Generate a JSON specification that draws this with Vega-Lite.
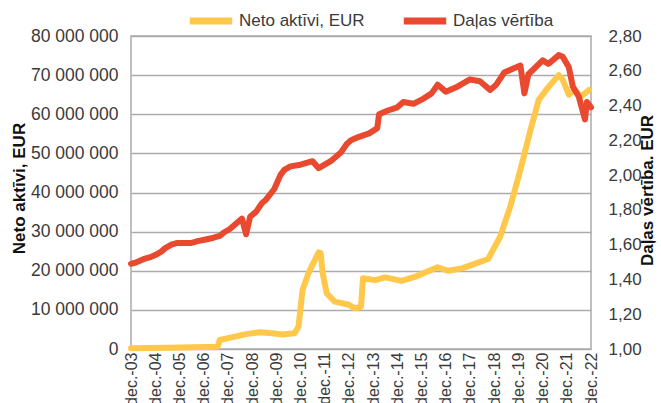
{
  "$schema": "https://vega.github.io/schema/vega-lite/v6.json",
  "width": 460,
  "height": 313,
  "autosize": {"type": "none"},
  "padding": {"left": 131, "top": 36, "right": 70, "bottom": 54},
  "background": "white",
  "config": {
    "view": {"stroke": "#ABABAB", "strokeWidth": 1.5},
    "font": "Liberation Sans",
    "axis": {"labelFont": "Liberation Sans", "titleFont": "Liberation Sans", "labelColor": "#3A3A3A", "titleColor": "#111111"},
    "axisX": {"labelOverlap": false, "labelFlush": false},
    "legend": {"labelFont": "Liberation Sans", "labelColor": "#3A3A3A"}
  },
  "datasets": {
    "neto": [
      {"date": "2003-12-01", "value": 200000},
      {"date": "2005-06-01", "value": 300000},
      {"date": "2007-07-01", "value": 600000},
      {"date": "2007-08-01", "value": 2300000},
      {"date": "2008-03-01", "value": 3100000},
      {"date": "2008-09-01", "value": 3800000},
      {"date": "2009-04-01", "value": 4300000},
      {"date": "2009-10-01", "value": 4000000},
      {"date": "2010-03-01", "value": 3700000},
      {"date": "2010-09-01", "value": 4000000},
      {"date": "2010-11-01", "value": 5700000},
      {"date": "2011-01-01", "value": 15100000},
      {"date": "2011-04-01", "value": 19400000},
      {"date": "2011-09-01", "value": 24700000},
      {"date": "2011-10-01", "value": 24500000},
      {"date": "2011-11-01", "value": 19400000},
      {"date": "2012-01-01", "value": 14200000},
      {"date": "2012-05-01", "value": 12100000},
      {"date": "2012-12-01", "value": 11300000},
      {"date": "2013-03-01", "value": 10400000},
      {"date": "2013-06-01", "value": 10800000},
      {"date": "2013-07-01", "value": 18100000},
      {"date": "2014-01-01", "value": 17600000},
      {"date": "2014-06-01", "value": 18300000},
      {"date": "2015-02-01", "value": 17400000},
      {"date": "2015-09-01", "value": 18500000},
      {"date": "2016-03-01", "value": 19800000},
      {"date": "2016-08-01", "value": 20900000},
      {"date": "2017-01-01", "value": 20000000},
      {"date": "2017-08-01", "value": 20600000},
      {"date": "2018-03-01", "value": 21900000},
      {"date": "2018-09-01", "value": 23000000},
      {"date": "2019-03-01", "value": 28700000},
      {"date": "2019-08-01", "value": 36400000},
      {"date": "2020-01-01", "value": 45800000},
      {"date": "2020-06-01", "value": 56000000},
      {"date": "2020-10-01", "value": 63600000},
      {"date": "2021-03-01", "value": 67000000},
      {"date": "2021-08-01", "value": 70000000},
      {"date": "2021-10-01", "value": 68800000},
      {"date": "2022-01-01", "value": 65000000},
      {"date": "2022-04-01", "value": 66200000},
      {"date": "2022-07-01", "value": 64500000},
      {"date": "2022-11-01", "value": 66200000}
    ],
    "dala": [
      {"date": "2003-12-01", "value": 1.49},
      {"date": "2004-03-01", "value": 1.50},
      {"date": "2004-07-01", "value": 1.52},
      {"date": "2004-10-01", "value": 1.53},
      {"date": "2004-12-01", "value": 1.54},
      {"date": "2005-03-01", "value": 1.56},
      {"date": "2005-05-01", "value": 1.58},
      {"date": "2005-08-01", "value": 1.60},
      {"date": "2005-11-01", "value": 1.61},
      {"date": "2006-02-01", "value": 1.61},
      {"date": "2006-06-01", "value": 1.61},
      {"date": "2006-09-01", "value": 1.62},
      {"date": "2007-01-01", "value": 1.63},
      {"date": "2007-05-01", "value": 1.64},
      {"date": "2007-08-01", "value": 1.65},
      {"date": "2007-10-01", "value": 1.67},
      {"date": "2008-01-01", "value": 1.69},
      {"date": "2008-03-01", "value": 1.71},
      {"date": "2008-07-01", "value": 1.75},
      {"date": "2008-09-01", "value": 1.66},
      {"date": "2008-11-01", "value": 1.76},
      {"date": "2009-02-01", "value": 1.79},
      {"date": "2009-05-01", "value": 1.84},
      {"date": "2009-07-01", "value": 1.86},
      {"date": "2009-11-01", "value": 1.92},
      {"date": "2010-02-01", "value": 2.00},
      {"date": "2010-04-01", "value": 2.03},
      {"date": "2010-07-01", "value": 2.05},
      {"date": "2010-12-01", "value": 2.06},
      {"date": "2011-03-01", "value": 2.07},
      {"date": "2011-06-01", "value": 2.08},
      {"date": "2011-09-01", "value": 2.04},
      {"date": "2011-12-01", "value": 2.06},
      {"date": "2012-03-01", "value": 2.08},
      {"date": "2012-08-01", "value": 2.13},
      {"date": "2012-11-01", "value": 2.18},
      {"date": "2013-01-01", "value": 2.20},
      {"date": "2013-05-01", "value": 2.22},
      {"date": "2013-10-01", "value": 2.24},
      {"date": "2014-02-01", "value": 2.27},
      {"date": "2014-03-01", "value": 2.35},
      {"date": "2014-07-01", "value": 2.37},
      {"date": "2014-12-01", "value": 2.39},
      {"date": "2015-03-01", "value": 2.42},
      {"date": "2015-08-01", "value": 2.41},
      {"date": "2016-01-01", "value": 2.44},
      {"date": "2016-05-01", "value": 2.47},
      {"date": "2016-08-01", "value": 2.52},
      {"date": "2016-12-01", "value": 2.48},
      {"date": "2017-06-01", "value": 2.51},
      {"date": "2017-12-01", "value": 2.55},
      {"date": "2018-05-01", "value": 2.54},
      {"date": "2018-10-01", "value": 2.49},
      {"date": "2019-01-01", "value": 2.52},
      {"date": "2019-05-01", "value": 2.59},
      {"date": "2019-09-01", "value": 2.61},
      {"date": "2020-01-01", "value": 2.63},
      {"date": "2020-03-01", "value": 2.47},
      {"date": "2020-05-01", "value": 2.58},
      {"date": "2020-12-01", "value": 2.66},
      {"date": "2021-03-01", "value": 2.64},
      {"date": "2021-08-01", "value": 2.69},
      {"date": "2021-10-01", "value": 2.68},
      {"date": "2022-01-01", "value": 2.62},
      {"date": "2022-03-01", "value": 2.51},
      {"date": "2022-06-01", "value": 2.45},
      {"date": "2022-09-01", "value": 2.32},
      {"date": "2022-10-01", "value": 2.42},
      {"date": "2022-12-01", "value": 2.39}
    ]
  },
  "encoding": {
    "x": {
      "field": "date", "type": "temporal",
      "scale": {"type": "utc", "domain": ["2003-12-01", "2022-12-01"]},
      "axis": {
        "title": null, "grid": false, "ticks": false, "domain": false,
        "labelAngle": -90, "labelFontSize": 16, "labelPadding": 3,
        "labelOverlap": false, "labelFlush": false, "labelBound": false, "labelSeparation": 0,
        "values": [
          {"year": 2003, "month": 12, "date": 1, "utc": true},
          {"year": 2004, "month": 12, "date": 1, "utc": true},
          {"year": 2005, "month": 12, "date": 1, "utc": true},
          {"year": 2006, "month": 12, "date": 1, "utc": true},
          {"year": 2007, "month": 12, "date": 1, "utc": true},
          {"year": 2008, "month": 12, "date": 1, "utc": true},
          {"year": 2009, "month": 12, "date": 1, "utc": true},
          {"year": 2010, "month": 12, "date": 1, "utc": true},
          {"year": 2011, "month": 12, "date": 1, "utc": true},
          {"year": 2012, "month": 12, "date": 1, "utc": true},
          {"year": 2013, "month": 12, "date": 1, "utc": true},
          {"year": 2014, "month": 12, "date": 1, "utc": true},
          {"year": 2015, "month": 12, "date": 1, "utc": true},
          {"year": 2016, "month": 12, "date": 1, "utc": true},
          {"year": 2017, "month": 12, "date": 1, "utc": true},
          {"year": 2018, "month": 12, "date": 1, "utc": true},
          {"year": 2019, "month": 12, "date": 1, "utc": true},
          {"year": 2020, "month": 12, "date": 1, "utc": true},
          {"year": 2021, "month": 12, "date": 1, "utc": true},
          {"year": 2022, "month": 12, "date": 1, "utc": true}
        ],
        "labelExpr": "'dec.-' + utcFormat(datum.value, '%y')"
      }
    }
  },
  "layer": [
    {
      "data": {"name": "neto"},
      "mark": {"type": "line", "strokeWidth": 6, "strokeCap": "round", "strokeJoin": "round"},
      "encoding": {
        "y": {
          "field": "value", "type": "quantitative",
          "scale": {"domain": [0, 80000000], "nice": false},
          "axis": {
            "title": "Neto aktīvi, EUR", "titleFontSize": 17, "titleFontWeight": "bold",
            "titleAngle": -90, "titleX": -112, "titleY": 152, "titleAlign": "center", "titleBaseline": "middle",
            "values": [0, 10000000, 20000000, 30000000, 40000000, 50000000, 60000000, 70000000, 80000000],
            "labelExpr": "replace(replace(format(datum.value, ','), ',', ' '), ',', ' ')",
            "labelFontSize": 17.5, "labelPadding": 13,
            "ticks": false, "domain": false,
            "grid": true, "gridColor": "#ABABAB", "gridWidth": 1.5
          }
        },
        "color": {
          "datum": "Neto aktīvi, EUR",
          "scale": {"domain": ["Neto aktīvi, EUR", "Daļas vērtība"], "range": ["#FFC84B", "#E8492F"]},
          "legend": {
            "title": null, "orient": "none", "direction": "horizontal",
            "legendX": 55, "legendY": -40,
            "symbolType": "stroke", "symbolStrokeWidth": 7, "symbolSize": 1800,
            "labelFontSize": 17, "labelOffset": 3, "columnPadding": 24
          }
        }
      }
    },
    {
      "data": {"name": "dala"},
      "mark": {"type": "line", "strokeWidth": 6, "strokeCap": "round", "strokeJoin": "round"},
      "encoding": {
        "y": {
          "field": "value", "type": "quantitative",
          "scale": {"domain": [1, 2.8], "nice": false, "zero": false},
          "axis": {
            "orient": "right",
            "title": "Daļas vērtība. EUR", "titleFontSize": 17, "titleFontWeight": "bold",
            "titleAngle": -90, "titleX": 56, "titleY": 154, "titleAlign": "center", "titleBaseline": "middle",
            "values": [1, 1.2, 1.4, 1.6, 1.8, 2, 2.2, 2.4, 2.6, 2.8],
            "labelExpr": "replace(format(datum.value, '.2f'), '.', ',')",
            "labelFontSize": 17, "labelPadding": 17,
            "ticks": false, "domain": false, "grid": false
          }
        },
        "color": {"datum": "Daļas vērtība"}
      }
    }
  ],
  "resolve": {"scale": {"y": "independent"}, "axis": {"y": "independent"}}
}
